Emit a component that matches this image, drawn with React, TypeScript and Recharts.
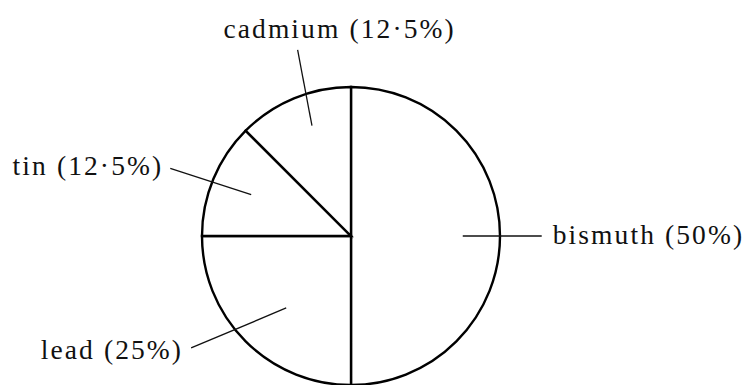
import React from "react";
import { PieChart, Pie, Cell } from "recharts";

const metals = ["bismuth", "lead", "tin", "cadmium"];
const shares = [50, 25, 12.5, 12.5];

// label layout (angle offsets in degrees, radii as fractions of the pie radius)
const innerOffsets = [0, 3, 0, -3];
const outerOffsets = [0, -10, 2, -6.5];
const innerRadii = [0.75, 0.65, 0.725, 0.785];
const outerRadii = [1.28, 1.31, 1.295, 1.3];
const anchors = ["start", "end", "end", "middle"];
const textDx = [11, -8, -7, 42];
const textDy = [8, 11, 7, -12];

const data = metals.map((name, i) => ({ name, value: shares[i] }));

const RAD = Math.PI / 180;
const polar = (cx: number, cy: number, r: number, deg: number) => ({
  x: cx + Math.cos(-deg * RAD) * r,
  y: cy + Math.sin(-deg * RAD) * r,
});

const fmt = (v: number) => String(v).replace(".", "·");

const renderLabel = (props: any) => {
  const { cx, cy, midAngle, outerRadius, index, name, value } = props;
  const p1 = polar(cx, cy, outerRadius * innerRadii[index], midAngle + innerOffsets[index]);
  const p2 = polar(cx, cy, outerRadius * outerRadii[index], midAngle + outerOffsets[index]);
  return (
    <g key={`lab-${index}`}>
      <line x1={p1.x} y1={p1.y} x2={p2.x} y2={p2.y} stroke="#111" strokeWidth={1.3} />
      <text
        x={p2.x + textDx[index]}
        y={p2.y + textDy[index]}
        textAnchor={anchors[index] as any}
        fill="#111"
        fontFamily="'Liberation Serif', 'Times New Roman', serif"
        fontSize={27.5}
        letterSpacing={2.1}
      >
        {`${name} (${fmt(value)}%)`}
      </text>
    </g>
  );
};

export default function App() {
  return (
    <div style={{ position: "absolute", left: 0, top: 0, width: 756, height: 385, background: "#fff" }}>
      <PieChart width={756} height={385} margin={{ top: 0, right: 0, bottom: 0, left: 0 }}>
        <Pie
          data={data}
          dataKey="value"
          nameKey="name"
          cx={351}
          cy={236}
          outerRadius={149}
          innerRadius={0}
          startAngle={90}
          endAngle={-270}
          stroke="#000"
          strokeWidth={2.4}
          fill="#fff"
          label={renderLabel}
          labelLine={false}
          isAnimationActive={false}
        >
          {data.map((d) => (
            <Cell key={d.name} fill="#fff" stroke="#000" strokeWidth={2.4} />
          ))}
        </Pie>
      </PieChart>
    </div>
  );
}
